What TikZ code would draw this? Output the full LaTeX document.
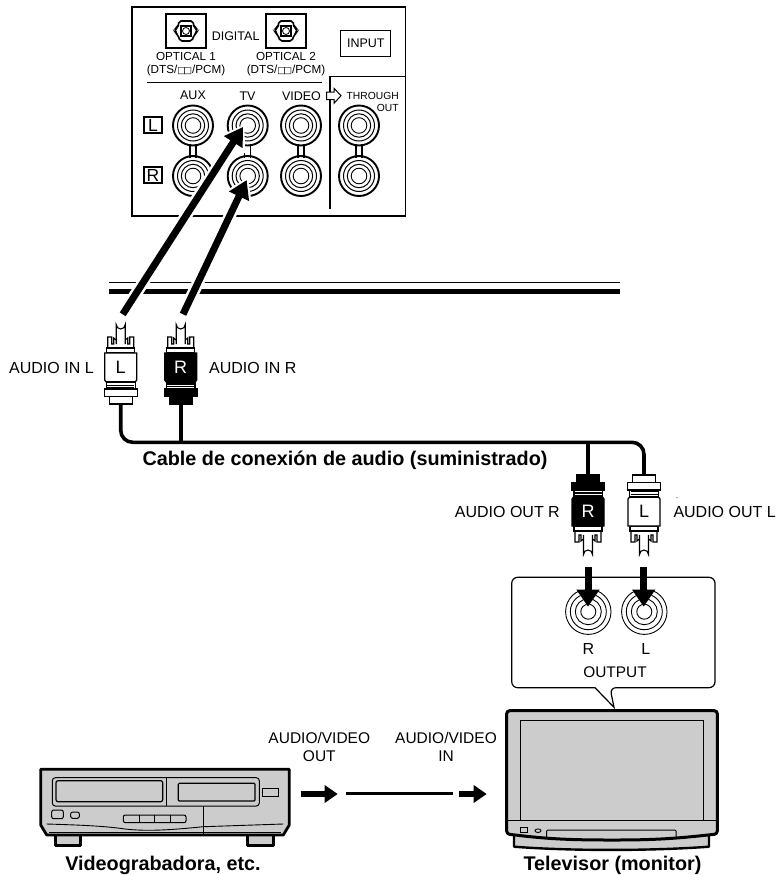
\documentclass[tikz,border=0pt]{standalone}
\usepackage{fontspec}
\setmainfont{Liberation Sans}
\newfontfamily\symfont{DejaVu Sans}
\usetikzlibrary{arrows.meta,calc}
\newcommand{\ddmark}{{\symfont\bfseries\fontsize{9}{9}\selectfont □\kern-2.4pt□}}
\definecolor{bodygray}{gray}{0.8}
\tikzset{
  lab/.style={font=\fontsize{16}{18}\selectfont,inner sep=0pt},
  twolab/.style={font=\fontsize{15.5}{18.7}\selectfont,inner sep=0pt,align=center},
  paneltxt/.style={font=\fontsize{12.5}{14}\selectfont,inner sep=0pt},
  opttxt/.style={font=\fontsize{11.7}{13.7}\selectfont,inner sep=0pt,align=center},
  boxlet/.style={draw,line width=1.3pt,font=\fontsize{17.5}{18}\selectfont,minimum width=18pt,minimum height=16pt,inner sep=0pt},
  boldlab/.style={font=\fontsize{19.8}{22}\selectfont\bfseries,inner sep=0pt},
  thin line/.style={line width=1.2pt},
  cable/.style={line width=3.6pt},
  bigarrow/.style={line width=7pt,-{Triangle[width=21pt,length=18pt]}},
  halo/.style={line width=12pt,white,-{Triangle[width=30pt,length=24pt]}},
  pics/plug/.style n args={3}{code={
    \draw[line width=1.1pt,fill=white] (-13,28) -- (-13,17) -- (-9,17) -- (-9,24) -- (-7,24) -- (-7,18) -- (-4.5,20) -- (4.5,20)
      -- (7,18) -- (7,24) -- (9,24) -- (9,17) -- (13,17) -- (13,28) -- cycle;
    \draw[line width=1.1pt,fill=white] (-4.5,24) -- (-4.5,4.5) arc (180:0:4.5) -- (4.5,24);
    \draw[line width=1.4pt,fill=white] (-14,28) rectangle (14,33);
    \draw[line width=1.3pt,fill=#1] (-16,33) -- (16,33) -- (16,60) -- (14.5,62) -- (-14.5,62) -- (-16,60) -- cycle;
    \draw[line width=1.2pt,fill=#1] (-14.5,62) rectangle (14.5,69);
    \draw[#2,line width=.8pt] (-13.5,65) -- (13.5,65) (-13.5,67.5) -- (13.5,67.5);
    \draw[line width=1.3pt,fill=#1] (-11.5,76) rectangle (11.5,84);
    \draw[line width=1.3pt,fill=#1] (-16.5,69) rectangle (16.5,76.5);
    \node[#2,font=\fontsize{18}{18}\selectfont,inner sep=0pt] (-letter) at (0,47.5) {#3};
  }}
}
\begin{document}
\begin{tikzpicture}[x=1pt,y=-1pt]
  \useasboundingbox (0,0) rectangle (777,875);

  \draw[thin line] (132,7) rectangle (405.7,216);
  \foreach \n/\x in {optone/186,opttwo/286} {
    \coordinate (\n) at (\x,31);
    \draw[line width=1.8pt] ($(\n)+(-20.3,-17)$) rectangle ($(\n)+(20.3,17)$);
    \draw[line width=1.6pt,rounded corners=2pt] ($(\n)+(-7,-10)$) -- ($(\n)+(7,-10)$) -- ($(\n)+(8,-4)$) -- ($(\n)+(10.5,-3)$) -- ($(\n)+(10.5,2)$)
      -- ($(\n)+(8,4)$) -- ($(\n)+(6,10)$) -- ($(\n)+(-6,10)$) -- ($(\n)+(-8,4)$) -- ($(\n)+(-10.5,2)$) -- ($(\n)+(-10.5,-3)$) -- ($(\n)+(-8,-4)$) -- cycle;
    \draw[line width=1.2pt] ($(\n)+(-5,-5)$) rectangle ($(\n)+(5,5)$);
    \draw[line width=.8pt] (\n) circle (3.5);
  }
  \node[paneltxt] (digital) at (235.6,36) {DIGITAL};
  \node[opttxt] (optonetxt) at (186,64) {OPTICAL 1\\(DTS/\ddmark/PCM)};
  \node[opttxt] (opttwotxt) at (286,64) {OPTICAL 2\\(DTS/\ddmark/PCM)};
  \node[draw,line width=1pt,paneltxt,minimum width=49.7pt,minimum height=26pt] (input) at (365.8,43.7) {INPUT};
  \draw[thin line] (146.7,82.7) -- (321.7,82.7);
  \draw[thin line] (405.7,76.7) -- (330,76.7) -- (330,209);
  \draw[line width=1pt,fill=white] (326.7,92) -- (334,92) -- (334,88.3) -- (341,95.7) -- (334,103.3) -- (334,99.5) -- (326.7,99.5) -- cycle;
  \foreach \n/\t/\x in {aux/AUX/193,tv/TV/247.5,vid/VIDEO/301.5} {
    \node[paneltxt] (\n txt) at (\x,95.7) {\t};
  }
  \node[font=\fontsize{10.3}{12}\selectfont,inner sep=0pt] (thru) at (372.7,95.7) {THROUGH};
  \node[font=\fontsize{10.3}{12}\selectfont,inner sep=0pt] (thruout) at (387.7,108.3) {OUT};
  \node[boxlet] (boxl) at (153,125) {L};
  \node[boxlet] (boxr) at (153,175) {R};

  \foreach \n/\x in {aux/193,tv/247.7,vid/301,thr/359} {
    \coordinate (\n l) at (\x,125.5);
    \coordinate (\n r) at (\x,176);
    \draw[line width=1.2pt] ($(\n l)+(-3,18)$) -- ($(\n r)+(-3,-18)$) ($(\n l)+(3,18)$) -- ($(\n r)+(3,-18)$);
    \foreach \j in {\n l,\n r} {
      \draw[line width=1.9pt] (\j) circle (20);
      \draw[line width=1pt] (\j) circle (15.5) (\j) circle (11.7);
      \draw[line width=.9pt] (\j) circle (7.8);
    }
  }

  \draw[line width=1.3pt] (109,282.7) -- (620,282.7);
  \draw[line width=5pt] (109,291.7) -- (620,291.7);

  \coordinate (fromtvl) at (122.7,314.3);
  \coordinate (totvl) at (243,127);
  \coordinate (fromtvr) at (183,314.3);
  \coordinate (totvr) at (246.7,180);
  \foreach \a/\b in {fromtvl/totvl,fromtvr/totvr} {
    \draw[halo,shorten >=-3pt] (\a) -- (\b);
  }
  \foreach \a/\b in {fromtvl/totvl,fromtvr/totvr} {
    \draw[bigarrow] (\a) -- (\b);
  }

  \pic (inl) at (120.7,320) {plug={white}{black}{L}};
  \pic (inr) at (180.7,320) {plug={black}{white}{R}};
  \pic[yscale=-1] (outr) at (588,559) {plug={black}{white}{R}};
  \pic[yscale=-1] (outl) at (644,559) {plug={white}{black}{L}};
  \coordinate (tailinl) at (120.7,404);
  \coordinate (tailinr) at (180.7,404);
  \coordinate (tailoutr) at (588,474);
  \coordinate (tailoutl) at (644,474);
  \coordinate (bus) at (400,442.3);
  \draw[cable,rounded corners=12pt] (tailinl) |- (bus) -| (tailoutl);
  \draw[cable] (tailinr) -- (tailinr |- bus);
  \draw[line width=4.5pt] (tailoutr) -- (tailoutr |- bus);

  \node[lab,anchor=west] (inltxt) at (9,368) {AUDIO IN L};
  \node[lab,anchor=west] (inrtxt) at (209,368) {AUDIO IN R};
  \node[boldlab] (cabletxt) at (345,460.5) {Cable de conexión de audio (suministrado)};
  \node[lab,anchor=east] (outrtxt) at (560,511.7) {AUDIO OUT R};
  \node[lab,anchor=west] (outltxt) at (673.3,511.7) {AUDIO OUT L};
  \fill (677,497.7) circle (.5);

  \draw[line width=1.2pt,rounded corners=6pt] (511.7,577.3) -- (715,577.3) -- (715,687.7) -- (610,687.7)
    [sharp corners] -- (614,707.3) -- (595,687.7) [rounded corners=6pt] -- (511.7,687.7) -- cycle;
  \foreach \n/\x in {tvoutr/588.3,tvoutl/644.3} {
    \coordinate (\n) at (\x,611.7);
    \draw[line width=.9pt] (\n) circle (22.7) (\n) circle (18) (\n) circle (13) (\n) circle (7.5);
  }
  \coordinate (fromoutr) at (588,567);
  \coordinate (fromoutl) at (643.7,567);
  \coordinate (tooutr) at (588,606.7);
  \coordinate (tooutl) at (643.7,606.7);
  \foreach \a/\b in {fromoutr/tooutr,fromoutl/tooutl} {
    \draw[line width=7pt,white,-{Triangle[width=25pt,length=20pt]}] ($(\a)+(0,10)$) -- (\b);
    \draw[line width=7pt,-{Triangle[width=22pt,length=17pt]}] (\a) -- (\b);
  }
  \node[lab] (rtxt) at (588.3,649) {R};
  \node[lab] (ltxt) at (645.7,649) {L};
  \node[font=\fontsize{15.4}{18}\selectfont,inner sep=0pt] (outputtxt) at (615,672) {OUTPUT};

  \draw[line width=2.6pt,fill=bodygray,line join=round] (55.7,835) rectangle (80.7,845.7) (247.3,835) rectangle (273.3,845.7);
  \draw[line width=2.8pt,fill=bodygray,line join=round] (40.7,769.3) -- (289.3,769.3) -- (289.3,825) -- (283.3,835) -- (46.7,835) -- (40.7,825) -- cycle;
  \draw[line width=1pt,rounded corners=3pt] (52.3,777.7) rectangle (259.3,806);
  \draw[line width=1.2pt,rounded corners=2pt] (56,780.7) rectangle (162.7,801.7);
  \draw[line width=1.2pt,rounded corners=1pt] (178.3,783.3) rectangle (255,801);
  \draw[line width=.9pt] (166,777.7) -- (166,806);
  \draw[line width=.9pt] (262.7,788.3) rectangle (278.3,796.7);
  \draw[line width=1pt,rounded corners=2pt] (51.7,810) rectangle (63.3,818.7);
  \draw[line width=1pt,rounded corners=2pt] (70.7,812) rectangle (79.3,818.3);
  \draw[line width=1pt,rounded corners=2pt] (123.3,815) rectangle (186,822.7);
  \foreach \x in {139,154.7,170.3} {
    \draw[line width=.9pt] (\x,815) -- (\x,822.7);
  }
  \draw[line width=.9pt] (203.3,806) -- (203.3,835);
  \draw[line width=.9pt] (46.7,824) .. controls (80,825) and (105,826) .. (125,829) .. controls (150,832) and (180,829) .. (203.3,826.7) -- (283.3,824);
  \draw[line width=.9pt] (49,832.5) -- (281,832.5);

  \coordinate (vcrout) at (300.7,794);
  \coordinate (vcrhead) at (337.7,794);
  \coordinate (linefrom) at (346,793.3);
  \coordinate (lineto) at (453.3,793.3);
  \coordinate (tvin) at (459,794);
  \coordinate (tvhead) at (486.7,794);
  \draw[line width=5.5pt,-{Triangle[width=17pt,length=13pt]}] (vcrout) -- (vcrhead);
  \draw[line width=3.5pt] (linefrom) -- (lineto);
  \draw[line width=5.5pt,-{Triangle[width=17pt,length=13pt]}] (tvin) -- (tvhead);
  \node[twolab] (avout) at (319.3,747) {AUDIO/VIDEO\\OUT};
  \node[twolab] (avin) at (446,747) {AUDIO/VIDEO\\IN};

  \draw[line width=2.4pt,fill=bodygray,line join=round] (514,832) -- (514,846.7) .. controls (570,851) and (650,851) .. (709,846.7) -- (709,832) -- cycle;
  \draw[line width=3pt,fill=bodygray,rounded corners=3pt] (506.7,710.7) -- (717.3,710.7) -- (717.3,834) .. controls (680,838) and (660,840) .. (612,840) .. controls (560,840) and (540,838) .. (506.7,834) -- cycle;
  \draw[line width=1.2pt] (520.7,820.7) -- (520.7,720.7) -- (703.7,720.7) -- (703.7,820.7);
  \draw[line width=1.2pt] (507,820.7) -- (717,820.7);
  \draw[line width=1pt] (520.7,827.7) rectangle (527,832.7);
  \draw[line width=.9pt] (538,830.7) ellipse (3 and 1.8);
  \draw[line width=1pt,rounded corners=1pt] (546.7,838.5) -- (546.7,830) -- (676,830) -- (676,838.5);

  \node[boldlab] (vcrtxt) at (163,865) {Videograbadora, etc.};
  \node[boldlab] (tvtxt) at (612.5,865) {Televisor (monitor)};
\end{tikzpicture}
\end{document}
